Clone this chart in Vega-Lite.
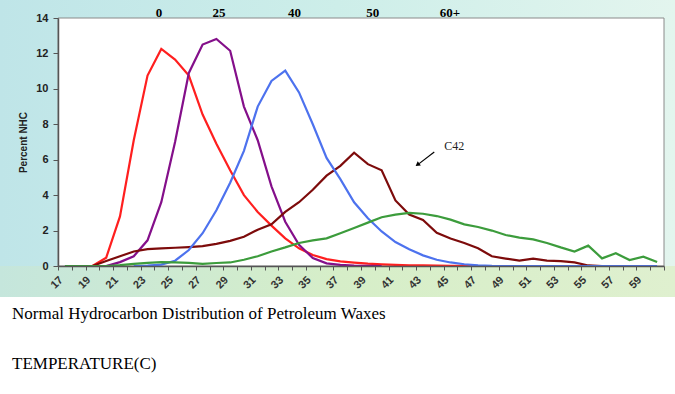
{
  "$schema": "https://vega.github.io/schema/vega-lite/v6.json",
  "width": 606,
  "height": 248,
  "autosize": {"type": "none"},
  "padding": {"left": 58, "top": 18, "right": 11, "bottom": 128},
  "background": "white",
  "config": {"view": {"stroke": null}, "axis": {"grid": false}},
  "resolve": {"axis": {"x": "independent", "y": "independent"}},
  "title": {
    "text": "Normal Hydrocarbon Distribution of Petroleum Waxes",
    "subtitle": "TEMPERATURE(C)",
    "orient": "bottom",
    "anchor": "start",
    "frame": "group",
    "dx": -46,
    "offset": 9,
    "font": "Liberation Serif",
    "fontSize": 17,
    "fontWeight": "normal",
    "color": "black",
    "subtitleFont": "Liberation Serif",
    "subtitleFontSize": 17,
    "subtitleColor": "black",
    "subtitlePadding": 33
  },
  "datasets": {
    "lines": [
      {"s": "A", "c": 19, "v": 0}, {"s": "A", "c": 20, "v": 0.47}, {"s": "A", "c": 21, "v": 2.8}, {"s": "A", "c": 22, "v": 7.1}, {"s": "A", "c": 23, "v": 10.75}, {"s": "A", "c": 24, "v": 12.25}, {"s": "A", "c": 25, "v": 11.65}, {"s": "A", "c": 26, "v": 10.75}, {"s": "A", "c": 27, "v": 8.55}, {"s": "A", "c": 28, "v": 6.9}, {"s": "A", "c": 29, "v": 5.4}, {"s": "A", "c": 30, "v": 4.0}, {"s": "A", "c": 31, "v": 3.05}, {"s": "A", "c": 32, "v": 2.28}, {"s": "A", "c": 33, "v": 1.56}, {"s": "A", "c": 34, "v": 1.0}, {"s": "A", "c": 35, "v": 0.62}, {"s": "A", "c": 36, "v": 0.39}, {"s": "A", "c": 37, "v": 0.26}, {"s": "A", "c": 38, "v": 0.19}, {"s": "A", "c": 39, "v": 0.13}, {"s": "A", "c": 40, "v": 0.09}, {"s": "A", "c": 41, "v": 0.06}, {"s": "A", "c": 42, "v": 0.04}, {"s": "A", "c": 43, "v": 0.03}, {"s": "A", "c": 44, "v": 0.02}, {"s": "A", "c": 45, "v": 0.01}, {"s": "A", "c": 46, "v": 0.01}, {"s": "A", "c": 47, "v": 0},
      {"s": "B", "c": 20, "v": 0}, {"s": "B", "c": 21, "v": 0.22}, {"s": "B", "c": 22, "v": 0.55}, {"s": "B", "c": 23, "v": 1.45}, {"s": "B", "c": 24, "v": 3.6}, {"s": "B", "c": 25, "v": 7.0}, {"s": "B", "c": 26, "v": 10.9}, {"s": "B", "c": 27, "v": 12.5}, {"s": "B", "c": 28, "v": 12.82}, {"s": "B", "c": 29, "v": 12.15}, {"s": "B", "c": 30, "v": 9.0}, {"s": "B", "c": 31, "v": 7.1}, {"s": "B", "c": 32, "v": 4.5}, {"s": "B", "c": 33, "v": 2.5}, {"s": "B", "c": 34, "v": 1.2}, {"s": "B", "c": 35, "v": 0.45}, {"s": "B", "c": 36, "v": 0.15}, {"s": "B", "c": 37, "v": 0.06}, {"s": "B", "c": 38, "v": 0.02}, {"s": "B", "c": 39, "v": 0.01}, {"s": "B", "c": 40, "v": 0},
      {"s": "C", "c": 19, "v": 0}, {"s": "C", "c": 20, "v": 0.28}, {"s": "C", "c": 21, "v": 0.55}, {"s": "C", "c": 22, "v": 0.82}, {"s": "C", "c": 23, "v": 0.95}, {"s": "C", "c": 24, "v": 1.0}, {"s": "C", "c": 25, "v": 1.03}, {"s": "C", "c": 26, "v": 1.07}, {"s": "C", "c": 27, "v": 1.12}, {"s": "C", "c": 28, "v": 1.25}, {"s": "C", "c": 29, "v": 1.42}, {"s": "C", "c": 30, "v": 1.65}, {"s": "C", "c": 31, "v": 2.05}, {"s": "C", "c": 32, "v": 2.35}, {"s": "C", "c": 33, "v": 3.05}, {"s": "C", "c": 34, "v": 3.6}, {"s": "C", "c": 35, "v": 4.3}, {"s": "C", "c": 36, "v": 5.1}, {"s": "C", "c": 37, "v": 5.65}, {"s": "C", "c": 38, "v": 6.4}, {"s": "C", "c": 39, "v": 5.75}, {"s": "C", "c": 40, "v": 5.4}, {"s": "C", "c": 41, "v": 3.7}, {"s": "C", "c": 42, "v": 2.9}, {"s": "C", "c": 43, "v": 2.6}, {"s": "C", "c": 44, "v": 1.88}, {"s": "C", "c": 45, "v": 1.55}, {"s": "C", "c": 46, "v": 1.3}, {"s": "C", "c": 47, "v": 1.0}, {"s": "C", "c": 48, "v": 0.55}, {"s": "C", "c": 49, "v": 0.42}, {"s": "C", "c": 50, "v": 0.3}, {"s": "C", "c": 51, "v": 0.42}, {"s": "C", "c": 52, "v": 0.3}, {"s": "C", "c": 53, "v": 0.28}, {"s": "C", "c": 54, "v": 0.2}, {"s": "C", "c": 55, "v": 0.03}, {"s": "C", "c": 56, "v": 0},
      {"s": "D", "c": 22, "v": 0}, {"s": "D", "c": 23, "v": 0.02}, {"s": "D", "c": 24, "v": 0.08}, {"s": "D", "c": 25, "v": 0.3}, {"s": "D", "c": 26, "v": 0.9}, {"s": "D", "c": 27, "v": 1.85}, {"s": "D", "c": 28, "v": 3.15}, {"s": "D", "c": 29, "v": 4.7}, {"s": "D", "c": 30, "v": 6.5}, {"s": "D", "c": 31, "v": 9.0}, {"s": "D", "c": 32, "v": 10.45}, {"s": "D", "c": 33, "v": 11.03}, {"s": "D", "c": 34, "v": 9.8}, {"s": "D", "c": 35, "v": 8.0}, {"s": "D", "c": 36, "v": 6.1}, {"s": "D", "c": 37, "v": 4.9}, {"s": "D", "c": 38, "v": 3.6}, {"s": "D", "c": 39, "v": 2.7}, {"s": "D", "c": 40, "v": 1.95}, {"s": "D", "c": 41, "v": 1.35}, {"s": "D", "c": 42, "v": 0.95}, {"s": "D", "c": 43, "v": 0.6}, {"s": "D", "c": 44, "v": 0.35}, {"s": "D", "c": 45, "v": 0.2}, {"s": "D", "c": 46, "v": 0.1}, {"s": "D", "c": 47, "v": 0.04}, {"s": "D", "c": 48, "v": 0.01}, {"s": "D", "c": 49, "v": 0}, {"s": "D", "c": 50, "v": 0}, {"s": "D", "c": 51, "v": 0}, {"s": "D", "c": 52, "v": 0}, {"s": "D", "c": 53, "v": 0}, {"s": "D", "c": 54, "v": 0}, {"s": "D", "c": 55, "v": 0}, {"s": "D", "c": 56, "v": 0}, {"s": "D", "c": 57, "v": 0}, {"s": "D", "c": 58, "v": 0}, {"s": "D", "c": 59, "v": 0}, {"s": "D", "c": 60, "v": 0},
      {"s": "E", "c": 17, "v": 0}, {"s": "E", "c": 18, "v": 0}, {"s": "E", "c": 19, "v": 0}, {"s": "E", "c": 20, "v": 0}, {"s": "E", "c": 21, "v": 0.05}, {"s": "E", "c": 22, "v": 0.12}, {"s": "E", "c": 23, "v": 0.18}, {"s": "E", "c": 24, "v": 0.22}, {"s": "E", "c": 25, "v": 0.2}, {"s": "E", "c": 26, "v": 0.18}, {"s": "E", "c": 27, "v": 0.12}, {"s": "E", "c": 28, "v": 0.17}, {"s": "E", "c": 29, "v": 0.2}, {"s": "E", "c": 30, "v": 0.35}, {"s": "E", "c": 31, "v": 0.55}, {"s": "E", "c": 32, "v": 0.82}, {"s": "E", "c": 33, "v": 1.05}, {"s": "E", "c": 34, "v": 1.3}, {"s": "E", "c": 35, "v": 1.45}, {"s": "E", "c": 36, "v": 1.56}, {"s": "E", "c": 37, "v": 1.85}, {"s": "E", "c": 38, "v": 2.15}, {"s": "E", "c": 39, "v": 2.45}, {"s": "E", "c": 40, "v": 2.75}, {"s": "E", "c": 41, "v": 2.9}, {"s": "E", "c": 42, "v": 3.0}, {"s": "E", "c": 43, "v": 2.95}, {"s": "E", "c": 44, "v": 2.82}, {"s": "E", "c": 45, "v": 2.62}, {"s": "E", "c": 46, "v": 2.35}, {"s": "E", "c": 47, "v": 2.2}, {"s": "E", "c": 48, "v": 2.0}, {"s": "E", "c": 49, "v": 1.75}, {"s": "E", "c": 50, "v": 1.6}, {"s": "E", "c": 51, "v": 1.5}, {"s": "E", "c": 52, "v": 1.3}, {"s": "E", "c": 53, "v": 1.05}, {"s": "E", "c": 54, "v": 0.82}, {"s": "E", "c": 55, "v": 1.15}, {"s": "E", "c": 56, "v": 0.43}, {"s": "E", "c": 57, "v": 0.72}, {"s": "E", "c": 58, "v": 0.34}, {"s": "E", "c": 59, "v": 0.53}, {"s": "E", "c": 60, "v": 0.22}
    ],
    "top": [
      {"c": 23.84, "label": "0"},
      {"c": 28.19, "label": "25"},
      {"c": 33.67, "label": "40"},
      {"c": 39.35, "label": "50"},
      {"c": 44.96, "label": "60+"}
    ],
    "note": [
      {"c": 44.55, "v": 6.77, "label": "C42", "c0": 43.82, "v0": 6.44, "c1": 42.72, "v1": 5.78, "c2": 42.6, "v2": 5.72}
    ]
  },
  "layer": [
    {
      "data": {"values": [{}]},
      "mark": {"type": "rect", "clip": false, "color": {"gradient": "linear", "x1": 0, "y1": 0, "x2": 1, "y2": 0, "stops": [{"offset": 0, "color": "#bfe5e8"}, {"offset": 0.5, "color": "#cdeee9"}, {"offset": 1, "color": "#e3f5ee"}]}},
      "encoding": {
        "x": {"datum": 12.289, "type": "quantitative", "axis": null},
        "x2": {"datum": 61.3},
        "y": {"datum": -1.75, "type": "quantitative", "axis": null},
        "y2": {"datum": 15.02}
      }
    },
    {
      "data": {"values": [{}]},
      "mark": {"type": "rect", "clip": false, "color": {"gradient": "linear", "x1": 0, "y1": 0, "x2": 1, "y2": 0, "stops": [{"offset": 0, "color": "#c5e6dc"}, {"offset": 0.5, "color": "#d6eec8"}, {"offset": 1, "color": "#dff0cf"}]}},
      "encoding": {
        "x": {"datum": 12.289, "type": "quantitative", "axis": null},
        "x2": {"datum": 61.3},
        "y": {"datum": -1.75, "type": "quantitative", "axis": null},
        "y2": {"datum": 0}
      }
    },
    {
      "data": {"values": [{}]},
      "mark": {"type": "rect", "clip": false, "fill": "white", "stroke": "#8a8a8a", "strokeWidth": 1},
      "encoding": {
        "x": {"datum": 16.5, "type": "quantitative", "axis": null},
        "x2": {"datum": 60.5},
        "y": {"datum": 0, "type": "quantitative", "axis": null},
        "y2": {"datum": 14}
      }
    },
    {
      "data": {"name": "lines"},
      "mark": {"type": "line", "strokeWidth": 2.2, "clip": false},
      "encoding": {
        "x": {
          "field": "c", "type": "quantitative",
          "scale": {"domain": [16.5, 60.5], "nice": false, "zero": false},
          "axis": {
            "orient": "bottom",
            "zindex": 2,
            "title": null,
            "values": [16.5, 17.5, 18.5, 19.5, 20.5, 21.5, 22.5, 23.5, 24.5, 25.5, 26.5, 27.5, 28.5, 29.5, 30.5, 31.5, 32.5, 33.5, 34.5, 35.5, 36.5, 37.5, 38.5, 39.5, 40.5, 41.5, 42.5, 43.5, 44.5, 45.5, 46.5, 47.5, 48.5, 49.5, 50.5, 51.5, 52.5, 53.5, 54.5, 55.5, 56.5, 57.5, 58.5, 59.5, 60.5],
            "labelExpr": "datum.value % 2 == 0.5 && datum.value < 60 ? format(datum.value + 0.5, 'd') : ''",
            "labelOffset": 3,
            "labelOverlap": false,
            "labelBound": false,
            "labelFlush": false,
            "labelAngle": -45,
            "labelAlign": "right",
            "labelBaseline": "middle",
            "labelPadding": 8,
            "labelFont": "Liberation Sans",
            "labelFontSize": 11,
            "labelFontWeight": "bold",
            "labelColor": "#333333",
            "tickSize": 4,
            "tickColor": "#555555",
            "domainColor": "#555555",
            "domainWidth": 1.5
          }
        },
        "y": {
          "field": "v", "type": "quantitative",
          "scale": {"domain": [0, 14], "nice": false},
          "axis": {
            "orient": "left",
            "zindex": 2,
            "title": "Percent NHC",
            "titleFont": "Liberation Sans",
            "titleFontSize": 10,
            "titleFontWeight": "bold",
            "titleColor": "#222222",
            "titlePadding": 7,
            "values": [0, 2, 4, 6, 8, 10, 12, 14],
            "labelOverlap": false,
            "labelBound": false,
            "labelFlush": false,
            "labelFont": "Liberation Sans",
            "labelFontSize": 11,
            "labelFontWeight": "bold",
            "labelColor": "#222222",
            "labelPadding": 5,
            "tickSize": 5,
            "tickColor": "#555555",
            "domainColor": "#555555",
            "domainWidth": 1.5
          }
        },
        "color": {
          "field": "s", "type": "nominal",
          "scale": {"domain": ["A", "B", "C", "D", "E"], "range": ["#ff1f1f", "#840f8a", "#7d0b0b", "#4d72ee", "#3c9c3c"]},
          "legend": null
        }
      }
    },
    {
      "data": {"name": "top"},
      "mark": {"type": "text", "font": "Liberation Serif", "fontSize": 13, "fontWeight": "bold", "color": "black", "baseline": "middle", "align": "center", "clip": false},
      "encoding": {
        "x": {"field": "c", "type": "quantitative", "axis": null},
        "y": {"datum": 14.27, "type": "quantitative", "axis": null},
        "text": {"field": "label"}
      }
    },
    {
      "data": {"name": "note"},
      "mark": {"type": "text", "font": "Liberation Serif", "fontSize": 12, "color": "#222222", "baseline": "middle", "align": "left"},
      "encoding": {
        "x": {"field": "c", "type": "quantitative", "axis": null},
        "y": {"field": "v", "type": "quantitative", "axis": null},
        "text": {"field": "label"}
      }
    },
    {
      "data": {"name": "note"},
      "mark": {"type": "rule", "color": "black", "strokeWidth": 1.2},
      "encoding": {
        "x": {"field": "c0", "type": "quantitative", "axis": null},
        "y": {"field": "v0", "type": "quantitative", "axis": null},
        "x2": {"field": "c1"},
        "y2": {"field": "v1"}
      }
    },
    {
      "data": {"name": "note"},
      "mark": {"type": "point", "shape": "triangle-up", "filled": true, "color": "black", "size": 28, "angle": 233, "opacity": 1},
      "encoding": {
        "x": {"field": "c2", "type": "quantitative", "axis": null},
        "y": {"field": "v2", "type": "quantitative", "axis": null}
      }
    }
  ]
}
